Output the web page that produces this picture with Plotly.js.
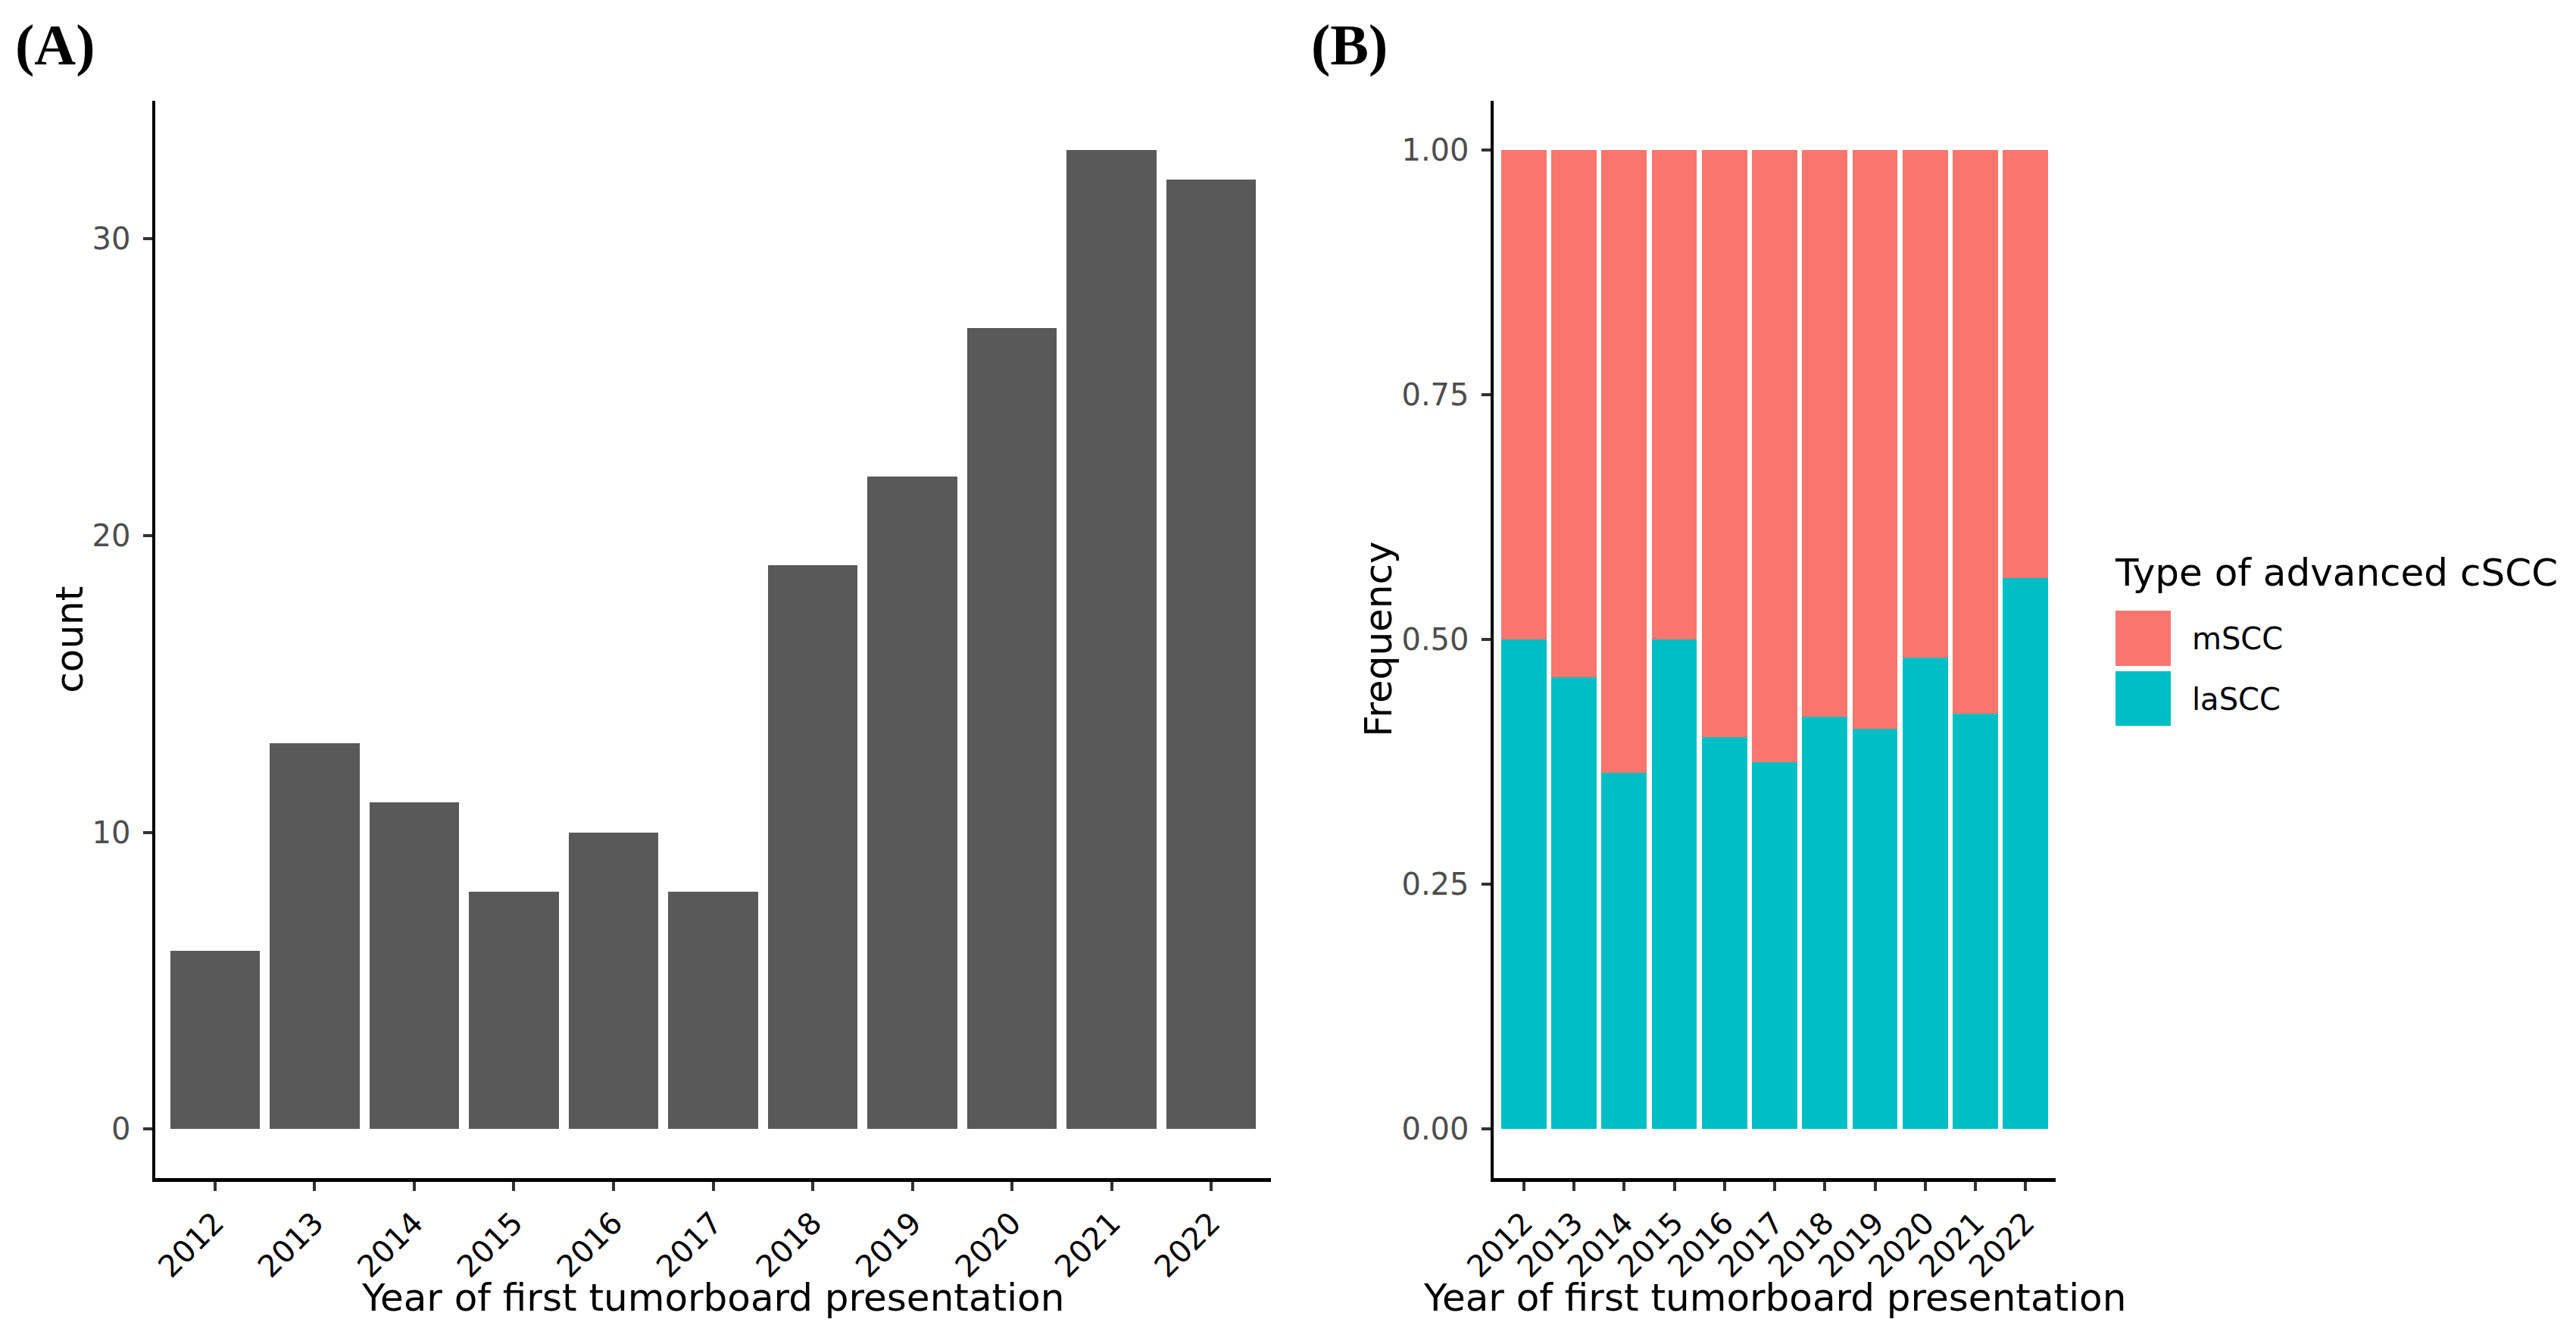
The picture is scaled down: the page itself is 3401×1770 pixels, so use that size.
<!DOCTYPE html>
<html>
<head>
<meta charset="utf-8">
<script src="https://cdn.plot.ly/plotly-3.0.1.min.js"></script>
<style>
  html, body { margin: 0; padding: 0; background: #fff; }
  #chart { width: 3401px; height: 1770px; }
</style>
</head>
<body>
<div id="chart"></div>
<script>
// values
const years = ['2012', '2013', '2014', '2015', '2016', '2017', '2018', '2019', '2020', '2021', '2022'];
const totalCount = [6, 13, 11, 8, 10, 8, 19, 22, 27, 33, 32];
const mSCCCount = [3, 7, 7, 4, 6, 5, 11, 13, 14, 19, 14];
const laSCCCount = [3, 6, 4, 4, 4, 3, 8, 9, 13, 14, 18];
const countTicks = [0, 10, 20, 30];
const freqTicks = [0, 0.25, 0.5, 0.75, 1];
const seriesNames = ['mSCC', 'laSCC'];
const seriesColors = ['#F8766D', '#00BFC4'];
const panelLabels = ['(A)', '(B)'];

const W = 3401, H = 1770;
const px = x => x / W;
const py = y => 1 - y / H;
const FONT = 'DejaVu Sans, sans-serif';

// stacked frequency = share of each type per year (position = "fill")
const freq = counts => counts.map((c, i) => c / (mSCCCount[i] + laSCCCount[i]));

// text placed by its baseline, DejaVu metrics
function label(text, x, base, size, extra) {
    return Object.assign({
        xref: 'paper', yref: 'paper',
        x: px(x), y: py(base - 0.346 * size),
        xanchor: 'center', yanchor: 'middle',
        text: text, showarrow: false,
        font: { family: FONT, size: size, color: '#000' }
    }, extra || {});
}
function vlabel(text, base, yc, size) {
    return {
        xref: 'paper', yref: 'paper',
        x: px(base - 0.346 * size), y: py(yc),
        xanchor: 'center', yanchor: 'middle',
        textangle: -90, text: text, showarrow: false,
        font: { family: FONT, size: size, color: '#000' }
    };
}

const traces = [
    { type: 'bar', x: years, y: totalCount, xaxis: 'x', yaxis: 'y',
      width: 0.9, marker: { color: '#595959' } },
    { type: 'bar', x: years, y: freq(laSCCCount), xaxis: 'x2', yaxis: 'y2', name: seriesNames[1],
      width: 0.9, marker: { color: seriesColors[1] } },
    { type: 'bar', x: years, y: freq(mSCCCount), xaxis: 'x2', yaxis: 'y2', name: seriesNames[0],
      width: 0.9, marker: { color: seriesColors[0] } }
];

const axisBase = {
    showline: true, linecolor: '#000', linewidth: 4.5,
    ticks: 'outside', ticklen: 12, tickwidth: 4, tickcolor: '#333333',
    showgrid: false, zeroline: false, fixedrange: true
};
const xBase = Object.assign({}, axisBase, {
    type: 'category', range: [-0.6, 10.6], tickangle: -45, ticklabelstandoff: 3,
    tickfont: { family: FONT, size: 40, color: '#000' }
});
const yBase = Object.assign({}, axisBase, {
    domain: [py(1555), py(133)], ticklabelstandoff: 8,
    tickfont: { family: FONT, size: 40, color: '#4D4D4D' }
});

const plotTop = 133, plotBottom = 1555, plotMid = (plotTop + plotBottom) / 2;
const boldSerif = { family: 'Liberation Serif, serif', size: 76, color: '#000', weight: 'bold' };

const annotations = [
    label(panelLabels[0], 73, 86, 76, { font: boldSerif }),
    label(panelLabels[1], 1781, 86, 76, { font: boldSerif }),
    label('Year of first tumorboard presentation', (205 + 1678) / 2, 1730, 50),
    label('Year of first tumorboard presentation', (1972 + 2714) / 2, 1730, 50),
    vlabel('count', 109, plotMid, 50),
    vlabel('Frequency', 1837, plotMid, 50),
    label('Type of advanced cSCC', 2790, 773, 50, { xanchor: 'left' }),
    label(seriesNames[0], 2892, 857, 40, { xanchor: 'left' }),
    label(seriesNames[1], 2892, 937, 40, { xanchor: 'left' })
];

// legend keys
const shapes = [
    { type: 'rect', xref: 'paper', yref: 'paper', x0: px(2793), x1: px(2866), y0: py(879), y1: py(806),
      fillcolor: seriesColors[0], line: { width: 0 } },
    { type: 'rect', xref: 'paper', yref: 'paper', x0: px(2793), x1: px(2866), y0: py(958), y1: py(886),
      fillcolor: seriesColors[1], line: { width: 0 } }
];

const layout = {
    width: W, height: H,
    margin: { t: 0, r: 0, b: 0, l: 0 },
    paper_bgcolor: '#fff', plot_bgcolor: '#fff',
    showlegend: false,
    barmode: 'stack',
    font: { family: FONT },
    xaxis: Object.assign({}, xBase, { domain: [px(205), px(1678)], anchor: 'y' }),
    yaxis: Object.assign({}, yBase, { anchor: 'x', range: [-1.65, 34.65], tickvals: countTicks }),
    xaxis2: Object.assign({}, xBase, { domain: [px(1972), px(2714)], anchor: 'y2' }),
    yaxis2: Object.assign({}, yBase, { anchor: 'x2', range: [-0.05, 1.05], tickvals: freqTicks, tickformat: '.2f' }),
    annotations: annotations,
    shapes: shapes
};

Plotly.newPlot('chart', traces, layout, { displayModeBar: false, staticPlot: true });
</script>
</body>
</html>
